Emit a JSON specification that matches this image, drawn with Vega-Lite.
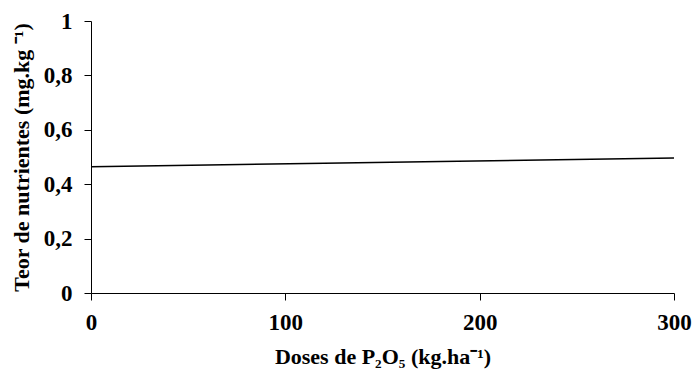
{
  "$schema": "https://vega.github.io/schema/vega-lite/v6.json",
  "width": 583,
  "height": 272,
  "autosize": "none",
  "padding": {"left": 91, "top": 21, "right": 20, "bottom": 82},
  "background": "white",
  "config": {
    "view": {"stroke": null},
    "axis": {
      "grid": false,
      "domainColor": "black",
      "domainWidth": 1,
      "tickColor": "black",
      "tickSize": 7,
      "tickWidth": 1,
      "labelFont": "Liberation Serif",
      "labelFontWeight": "bold",
      "labelFontSize": 23,
      "labelColor": "black",
      "labelFlush": false,
      "titleFont": "Liberation Serif",
      "titleFontWeight": "bold",
      "titleFontSize": 22,
      "titleColor": "black"
    }
  },
  "data": {
    "values": [
      {"dose": 0, "teor": 0.464},
      {"dose": 60, "teor": 0.4705},
      {"dose": 120, "teor": 0.477},
      {"dose": 180, "teor": 0.4835},
      {"dose": 240, "teor": 0.490},
      {"dose": 300, "teor": 0.4965}
    ]
  },
  "mark": {"type": "line", "color": "black", "strokeWidth": 1.6},
  "encoding": {
    "x": {
      "field": "dose",
      "type": "quantitative",
      "scale": {"domain": [0, 300], "nice": false},
      "axis": {
        "values": [0, 100, 200, 300],
        "labelPadding": 11,
        "title": "Doses de P₂O₅ (kg.ha⁻¹)",
        "titlePadding": 12
      }
    },
    "y": {
      "field": "teor",
      "type": "quantitative",
      "scale": {"domain": [0, 1], "nice": false},
      "axis": {
        "values": [0, 0.2, 0.4, 0.6, 0.8, 1],
        "labelExpr": "replace(format(datum.value, '~g'), '.', ',')",
        "labelPadding": 12,
        "title": "Teor de nutrientes (mg.kg  ⁻¹)",
        "titlePadding": 10
      }
    }
  }
}
